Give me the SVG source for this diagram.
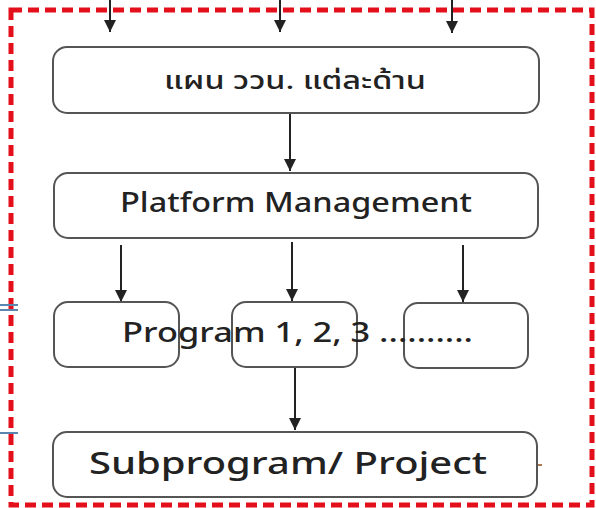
<svg xmlns="http://www.w3.org/2000/svg" width="596" height="508" viewBox="0 0 596 508">
<style>
.box{fill:#fff;stroke:#555;stroke-width:2}
.lbl{font-family:"Noto Sans Thai","Noto Sans","Open Sans","DejaVu Sans",sans-serif;fill:#222;font-weight:500}
.con{stroke:#222;stroke-width:2;fill:none}
.frame{fill:none;stroke:#e3101c;stroke-width:5;stroke-dasharray:11 6}
</style>
<defs>
<marker id="ah" viewBox="0 0 10 10" refX="10" refY="5" markerWidth="12" markerHeight="12" markerUnits="userSpaceOnUse" orient="auto">
<path d="M0,0 L10,5 L0,10 z" fill="#222"/>
</marker>
</defs>
<rect x="0" y="0" width="596" height="508" fill="#fff"/>
<rect id="frame" class="frame" x="11" y="10" width="581" height="495"/>
<g id="marks" stroke="#5a86b0" stroke-width="2">
<line x1="0" y1="305" x2="18" y2="305"/>
<line x1="0" y1="310" x2="18" y2="310"/>
<line x1="0" y1="433" x2="18" y2="433"/>
<line x1="538" y1="465" x2="542" y2="465" stroke="#b07a50"/>
</g>
<g id="connectors">
<line class="con" x1="110" y1="0" x2="110" y2="32" marker-end="url(#ah)"/>
<line class="con" x1="280" y1="0" x2="280" y2="32" marker-end="url(#ah)"/>
<line class="con" x1="452" y1="0" x2="452" y2="33" marker-end="url(#ah)"/>
<line class="con" x1="290" y1="114" x2="290" y2="171" marker-end="url(#ah)"/>
<line class="con" x1="121" y1="245" x2="121" y2="302" marker-end="url(#ah)"/>
<line class="con" x1="292" y1="242" x2="292" y2="301" marker-end="url(#ah)"/>
<line class="con" x1="463" y1="245" x2="463" y2="302" marker-end="url(#ah)"/>
<line class="con" x1="295" y1="368" x2="295" y2="430" marker-end="url(#ah)"/>
</g>
<g id="plan">
<rect class="box" x="53" y="47" width="486" height="66" rx="14"/>
<text class="lbl" x="295" y="89" font-size="24" text-anchor="middle" textLength="262" lengthAdjust="spacingAndGlyphs">แผน ววน. แต่ละด้าน</text>
</g>
<g id="platform">
<rect class="box" x="54" y="173" width="484" height="65" rx="14"/>
<text class="lbl" x="120" y="212" font-size="27" textLength="352" lengthAdjust="spacingAndGlyphs">Platform Management</text>
</g>
<g id="program1">
<rect class="box" x="54" y="302" width="125" height="65" rx="14"/>
</g>
<g id="program2">
<rect class="box" x="232" y="302" width="125" height="65" rx="14"/>
</g>
<g id="program3">
<rect class="box" x="404" y="303" width="124" height="65" rx="14"/>
</g>
<text id="program-label" class="lbl" x="122" y="342" font-size="27" textLength="351" lengthAdjust="spacingAndGlyphs">Program 1, 2, 3 ..........</text>
<g id="subprogram">
<rect class="box" x="53" y="432" width="484" height="65" rx="14"/>
<text class="lbl" x="89" y="474" font-size="30" textLength="398" lengthAdjust="spacingAndGlyphs">Subprogram/ Project</text>
</g>
</svg>
